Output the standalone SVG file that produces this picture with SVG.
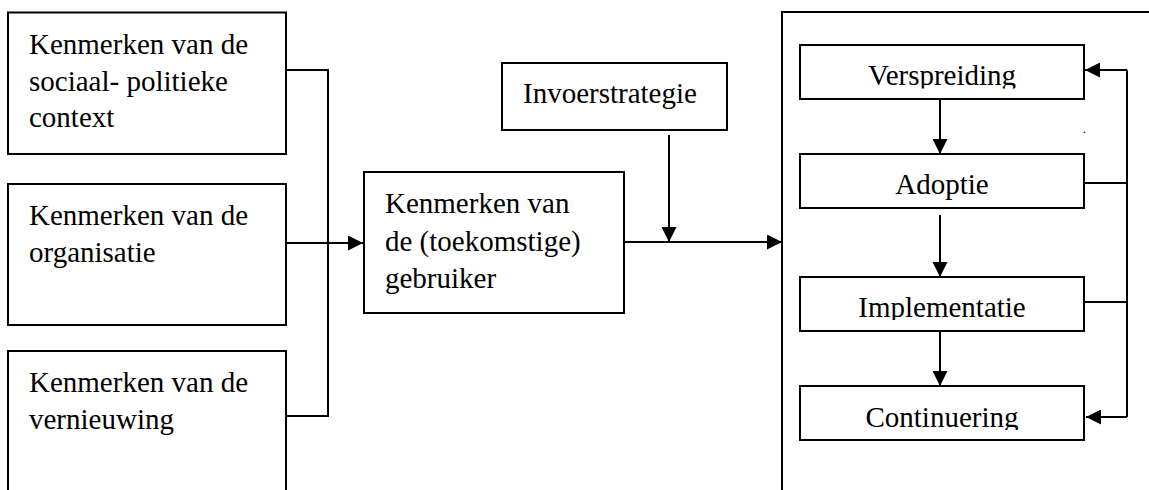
<svg xmlns="http://www.w3.org/2000/svg" width="1149" height="490" viewBox="0 0 1149 490">
<style>
.box{fill:#fff;stroke:#000;stroke-width:2}
.t{font-family:"Liberation Serif","Times New Roman",serif;font-size:29px;fill:#000}
.c{text-anchor:middle}
.ln{fill:none;stroke:#000;stroke-width:2}
</style>
<defs>
<marker id="ah" markerUnits="userSpaceOnUse" markerWidth="15" markerHeight="15" refX="15" refY="7.5" orient="auto">
<path d="M0,0 L15,7.5 L0,15 z" fill="#000"/>
</marker>
<clipPath id="cl1"><rect x="800" y="45" width="284" height="43.5"/></clipPath>
<clipPath id="cl3"><rect x="800" y="277" width="284" height="43"/></clipPath>
<clipPath id="cl4"><rect x="800" y="386" width="284" height="44"/></clipPath>
</defs>
<rect width="1149" height="490" fill="#fff"/>
<g id="n-proces">
<rect class="box" x="782" y="12" width="420" height="500"/>
</g>
<g id="n-sociaal">
<rect class="box" x="8" y="12.5" width="278" height="141.5"/>
<text class="t" x="29" y="54">Kenmerken van de</text>
<text class="t" x="29" y="90.5">sociaal- politieke</text>
<text class="t" x="29" y="127">context</text>
</g>
<g id="n-organisatie">
<rect class="box" x="8" y="184" width="278" height="141"/>
<text class="t" x="29" y="225">Kenmerken van de</text>
<text class="t" x="29" y="261.5">organisatie</text>
</g>
<g id="n-vernieuwing">
<rect class="box" x="8" y="351" width="278" height="200"/>
<text class="t" x="29" y="392">Kenmerken van de</text>
<text class="t" x="29" y="428.5">vernieuwing</text>
</g>
<g id="n-gebruiker">
<rect class="box" x="364" y="172" width="260" height="141"/>
<text class="t" x="385" y="213">Kenmerken van</text>
<text class="t" x="385" y="250.5">de (toekomstige)</text>
<text class="t" x="385" y="287.5">gebruiker</text>
</g>
<g id="n-invoer">
<rect class="box" x="502" y="63" width="225" height="67"/>
<text class="t" x="523" y="103">Invoerstrategie</text>
</g>
<g id="n-verspreiding">
<rect class="box" x="800" y="45" width="284" height="54"/>
<text class="t c" x="942" y="85" clip-path="url(#cl1)">Verspreiding</text>
</g>
<g id="n-adoptie">
<rect class="box" x="800" y="154" width="284" height="54"/>
<text class="t c" x="942" y="194">Adoptie</text>
</g>
<g id="n-implementatie">
<rect class="box" x="800" y="277" width="284" height="54"/>
<text class="t c" x="942" y="316.5" clip-path="url(#cl3)">Implementatie</text>
</g>
<g id="n-continuering">
<rect class="box" x="800" y="386" width="284" height="54"/>
<text class="t c" x="942" y="426.5" clip-path="url(#cl4)">Continuering</text>
</g>
<g id="connectors">
<path class="ln" d="M286,70 H328 V416 H286"/>
<path class="ln" d="M286,243 H363" marker-end="url(#ah)"/>
<path class="ln" d="M624,242 H782" marker-end="url(#ah)"/>
<path class="ln" d="M669,135 V242" marker-end="url(#ah)"/>
<path class="ln" d="M940,99 V154" marker-end="url(#ah)"/>
<path class="ln" d="M940,215 V277" marker-end="url(#ah)"/>
<path class="ln" d="M940,331 V386" marker-end="url(#ah)"/>
<path class="ln" d="M1084,183 H1127 M1084,302 H1127"/>
<path class="ln" d="M1127,70 V417"/>
<path class="ln" d="M1127,70 H1085" marker-end="url(#ah)"/>
<path class="ln" d="M1127,417 H1086" marker-end="url(#ah)"/>
</g>
<text x="1083" y="133" style="font-family:'Liberation Serif',serif;font-size:12px">.</text>
</svg>
